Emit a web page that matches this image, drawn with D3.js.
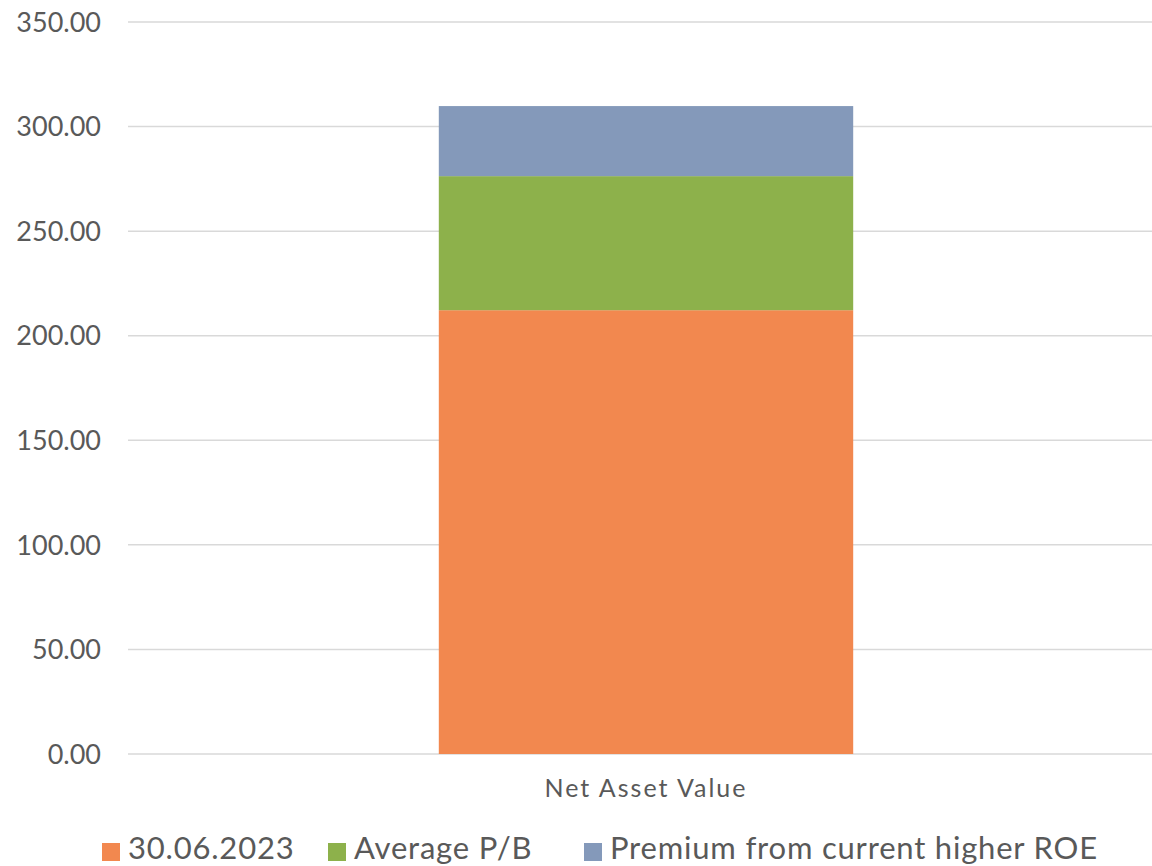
<!DOCTYPE html>
<html>
<head>
<meta charset="utf-8">
<script src="https://cdn.jsdelivr.net/npm/d3@7"></script>
<style>
  body { margin: 0; background: #fff; }
  svg text { font-family: Lato, "Open Sans", sans-serif; fill: #595959; }
</style>
</head>
<body>
<div id="chart"></div>
<script>
// data
var categories = ["Net Asset Value"];
var seriesNames = ["30.06.2023", "Average P/B", "Premium from current higher ROE"];
var seriesValues = [[212.2], [64.1], [33.5]];
var seriesColors = ["#f2884f", "#8db14b", "#8499ba"];
var yTicks = [0, 50, 100, 150, 200, 250, 300, 350];

var W = 1152, H = 866;
var margin = { left: 128, right: -12, top: 22, bottom: 112 };

var svg = d3.select("#chart").append("svg")
    .attr("width", W).attr("height", H);

var x = d3.scaleBand()
    .domain(categories)
    .range([margin.left, W - margin.right])
    .paddingInner(0.6).paddingOuter(0.3);

var y = d3.scaleLinear()
    .domain([0, 350])
    .range([H - margin.bottom, margin.top]);

// gridlines
svg.append("g").selectAll("line")
    .data(yTicks).enter().append("line")
    .attr("x1", margin.left).attr("x2", W)
    .attr("y1", function(d) { return y(d); })
    .attr("y2", function(d) { return y(d); })
    .attr("stroke", "#d9d9d9").attr("stroke-width", 1.5);

// y labels
svg.append("g").selectAll("text")
    .data(yTicks).enter().append("text")
    .attr("x", 101)
    .attr("y", function(d) { return y(d); })
    .attr("dy", "0.36em")
    .attr("text-anchor", "end")
    .style("font-size", "27px")
    .text(function(d) { return d3.format(".2f")(d); });

// stacked bars
var rows = categories.map(function(c, i) {
  var r = { cat: c };
  seriesNames.forEach(function(s, j) { r[s] = seriesValues[j][i]; });
  return r;
});
var stacked = d3.stack().keys(seriesNames)(rows);

svg.append("g").selectAll("g")
    .data(stacked).enter().append("g")
    .attr("fill", function(d, i) { return seriesColors[i]; })
  .selectAll("rect")
    .data(function(d) { return d; }).enter().append("rect")
    .attr("x", function(d) { return x(d.data.cat); })
    .attr("width", x.bandwidth())
    .attr("y", function(d) { return y(d[1]); })
    .attr("height", function(d) { return y(d[0]) - y(d[1]); });

// category label
svg.append("g").selectAll("text")
    .data(categories).enter().append("text")
    .attr("x", function(d) { return x(d) + x.bandwidth() / 2; })
    .attr("y", 797)
    .attr("text-anchor", "middle")
    .style("font-size", "25px")
    .style("letter-spacing", "2px")
    .text(function(d) { return d; });

// legend
var legendX = [102, 328, 584];
var legend = svg.append("g").selectAll("g")
    .data(seriesNames).enter().append("g")
    .attr("transform", function(d, i) { return "translate(" + legendX[i] + ",0)"; });
legend.append("rect")
    .attr("x", 0).attr("y", 843).attr("width", 18).attr("height", 18)
    .attr("fill", function(d, i) { return seriesColors[i]; });
legend.append("text")
    .attr("x", 26).attr("y", 859)
    .style("font-size", "31px")
    .style("letter-spacing", "0.8px")
    .text(function(d) { return d; });
</script>
</body>
</html>
